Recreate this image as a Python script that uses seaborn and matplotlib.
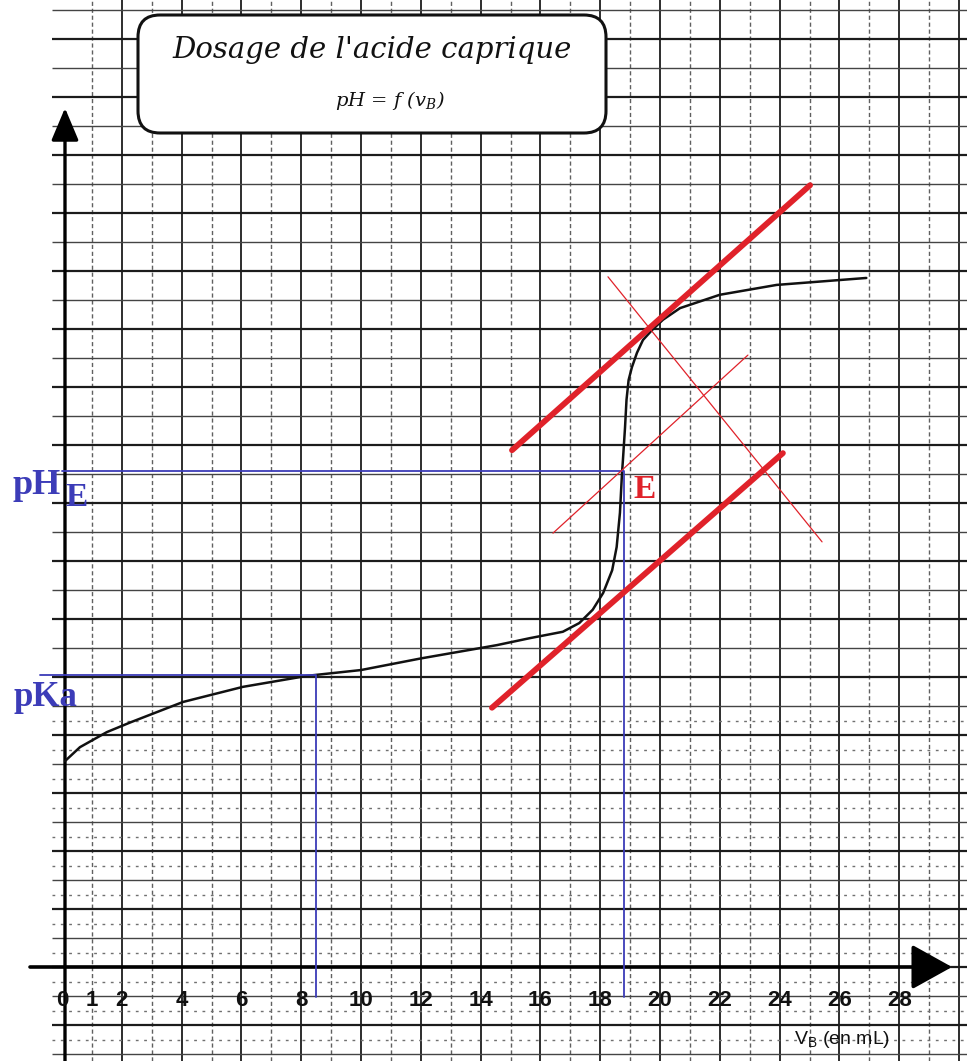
import numpy as np
import pandas as pd
import matplotlib
matplotlib.use("Agg")
import matplotlib.pyplot as plt
import matplotlib.transforms as mtransforms
from matplotlib.patches import FancyBboxPatch
import seaborn as sns

# ---------------- data ----------------
V_curve = [0.1, 0.6, 1.5, 2.3, 4.05, 6.05, 8.2, 10.0, 12.0, 14.0, 14.55, 15.65,
           16.75, 17.3, 17.75, 18.1, 18.4, 18.55, 18.66, 18.73, 18.76, 18.83,
           18.88, 18.95, 19.06, 19.23, 19.43, 19.73, 20.1, 20.67, 22.0, 23.9, 25.9, 26.9]
pH_curve = [3.55, 3.79, 4.05, 4.22, 4.57, 4.83, 5.02, 5.12, 5.32, 5.50, 5.55, 5.67,
            5.78, 5.93, 6.16, 6.45, 6.84, 7.24, 7.83, 8.52, 8.74, 9.30,
            9.78, 10.12, 10.34, 10.59, 10.81, 10.98, 11.16, 11.36, 11.59, 11.76, 11.84, 11.88]

x_tick_values = [0, 1, 2, 4, 6, 8, 10, 12, 14, 16, 18, 20, 22, 24, 26, 28]
x_tick_labels = ["0", "1", "2", "4", "6", "8", "10", "12", "14", "16", "18",
                 "20", "22", "24", "26", "28"]

tangent_high_V = [15.05, 25.02]
tangent_high_pH = [8.91, 13.48]
tangent_low_V = [14.38, 24.11]
tangent_low_pH = [4.47, 8.86]
perpendicular_V = [18.26, 25.42]
perpendicular_pH = [11.90, 7.33]
median_V = [16.42, 22.94]
median_pH = [7.48, 10.55]

V_E = 18.8
pH_E = 8.55
V_half = 8.5
pKa = 5.03

title_text = "Dosage de l'acide caprique"
subtitle_text = r"pH = f (v$_\mathregular{B}$)"
xlabel_text = r"$\mathregular{V_B}$ (en mL)"

# ---------------- figure geometry ----------------
W, H = 967, 1061
PX_PER_ML = 29.9
PX_PER_PH = 58.0
X_ORIG, Y_ORIG = 62, 967


def vx(px):
    return (px - X_ORIG) / PX_PER_ML


def py(pyx):
    return (Y_ORIG - pyx) / PX_PER_PH


sns.set_style("white")
plt.rcParams["font.family"] = ["DejaVu Sans"]

fig = plt.figure(figsize=(W / 100, H / 100), dpi=100)
ax = fig.add_axes([0, 0, 1, 1])
XMIN, XMAX = vx(0), vx(W)
YMIN, YMAX = py(H), py(0)
ax.set_xlim(XMIN, XMAX)
ax.set_ylim(YMIN, YMAX)
ax.axis("off")

grid_dark = "#1c1c1c"
# vertical graph-paper lines (1 mL)
for v in range(1, 31):
    if v % 2 == 0:
        ax.vlines(v, YMIN, YMAX, color=grid_dark, lw=1.3, zorder=1)
    else:
        ax.vlines(v, YMIN, YMAX, color="#606060", lw=1.0,
                  linestyles=(0, (3, 2)), zorder=1)
# horizontal graph-paper lines (0.5 pH)
for k in range(-3, 34):
    h = k * 0.5
    if k % 2 == 0:
        ax.hlines(h, vx(52), XMAX, color=grid_dark, lw=1.6, zorder=1)
    else:
        ax.hlines(h, vx(52), XMAX, color="#444444", lw=1.0, zorder=1)
# scanned dotted texture in the lower part of the sheet
for k in range(-3, 9):
    h = k * 0.5 + 0.25
    ax.hlines(h, vx(52), XMAX, color="#707070", lw=1.0,
              linestyles=(0, (2, 4)), zorder=1)

# axes with arrows
ax.annotate("", xy=(vx(952), 0), xytext=(vx(30), 0),
            arrowprops=dict(arrowstyle="-|>,head_length=0.9,head_width=0.5",
                            lw=2.6, color="black", mutation_scale=28,
                            shrinkA=0, shrinkB=0), zorder=3)
ax.annotate("", xy=(0.1, py(108)), xytext=(0.1, YMIN),
            arrowprops=dict(arrowstyle="-|>,head_length=1.0,head_width=0.42",
                            lw=2.4, color="black", mutation_scale=20,
                            shrinkA=0, shrinkB=0), zorder=3)

# tick labels
for v, lab in zip(x_tick_values, x_tick_labels):
    ax.text(v, py(1000), lab, ha="center", va="center", fontsize=16,
            fontweight="bold", family="Liberation Sans", color="#111111", zorder=4)
ax.text(vx(842), py(1040), xlabel_text, ha="center", va="center", fontsize=14,
        family="Liberation Sans", color="#111111", zorder=4)

# titration curve
curve = pd.DataFrame({"V": V_curve, "pH": pH_curve})
sns.lineplot(data=curve, x="V", y="pH", sort=False, estimator=None,
             color="#111111", lw=1.8, ax=ax, zorder=4)

# construction lines (tangents method)
blue = "#3c3cb8"
red = "#e0222a"
sns.lineplot(x=[vx(40), V_half, V_half], y=[pKa, pKa, py(997)], sort=False,
             estimator=None, color=blue, lw=1.3, ax=ax, zorder=5)
sns.lineplot(x=[vx(62), V_E, V_E], y=[pH_E, pH_E, py(997)], sort=False,
             estimator=None, color=blue, lw=1.3, ax=ax, zorder=5)
sns.lineplot(x=tangent_high_V, y=tangent_high_pH, color=red, lw=4.2, ax=ax,
             zorder=6, solid_capstyle="round")
sns.lineplot(x=tangent_low_V, y=tangent_low_pH, color=red, lw=4.2, ax=ax,
             zorder=6, solid_capstyle="round")
sns.lineplot(x=perpendicular_V, y=perpendicular_pH, color=red, lw=0.9, ax=ax, zorder=6)
sns.lineplot(x=median_V, y=median_pH, color=red, lw=0.9, ax=ax, zorder=6)

ax.set_xlim(XMIN, XMAX)
ax.set_ylim(YMIN, YMAX)
ax.axis("off")

# labels
serif = ["Liberation Serif", "DejaVu Serif"]
ax.text(vx(37), py(486), "pH", ha="center", va="center", fontsize=26,
        fontweight="bold", family=serif, color=blue, zorder=7)
ax.text(vx(77), py(498), "E", ha="center", va="center", fontsize=24,
        fontweight="bold", family=serif, color=blue, zorder=7)
ax.text(vx(45), py(697), "pKa", ha="center", va="center", fontsize=25,
        fontweight="bold", family=serif, color=blue, zorder=7)
ax.text(vx(645), py(489), "E", ha="center", va="center", fontsize=24,
        fontweight="bold", family=serif, color=red, zorder=7)

# title box
box = FancyBboxPatch((138, H - 133), 468, 118,
                     boxstyle="round,pad=0,rounding_size=22",
                     transform=mtransforms.IdentityTransform(),
                     facecolor="white", edgecolor="#111111", lw=2.2, zorder=8)
fig.add_artist(box)
fig.text(372 / W, 1 - 50 / H, title_text, ha="center", va="center",
         fontsize=21, style="italic", family="DejaVu Serif", color="#111111",
         zorder=9)
fig.text(390 / W, 1 - 100 / H, subtitle_text, ha="center", va="center",
         fontsize=14, style="italic", family="DejaVu Serif", color="#111111",
         zorder=9)

fig.savefig("out.png", dpi=100, facecolor="white")
